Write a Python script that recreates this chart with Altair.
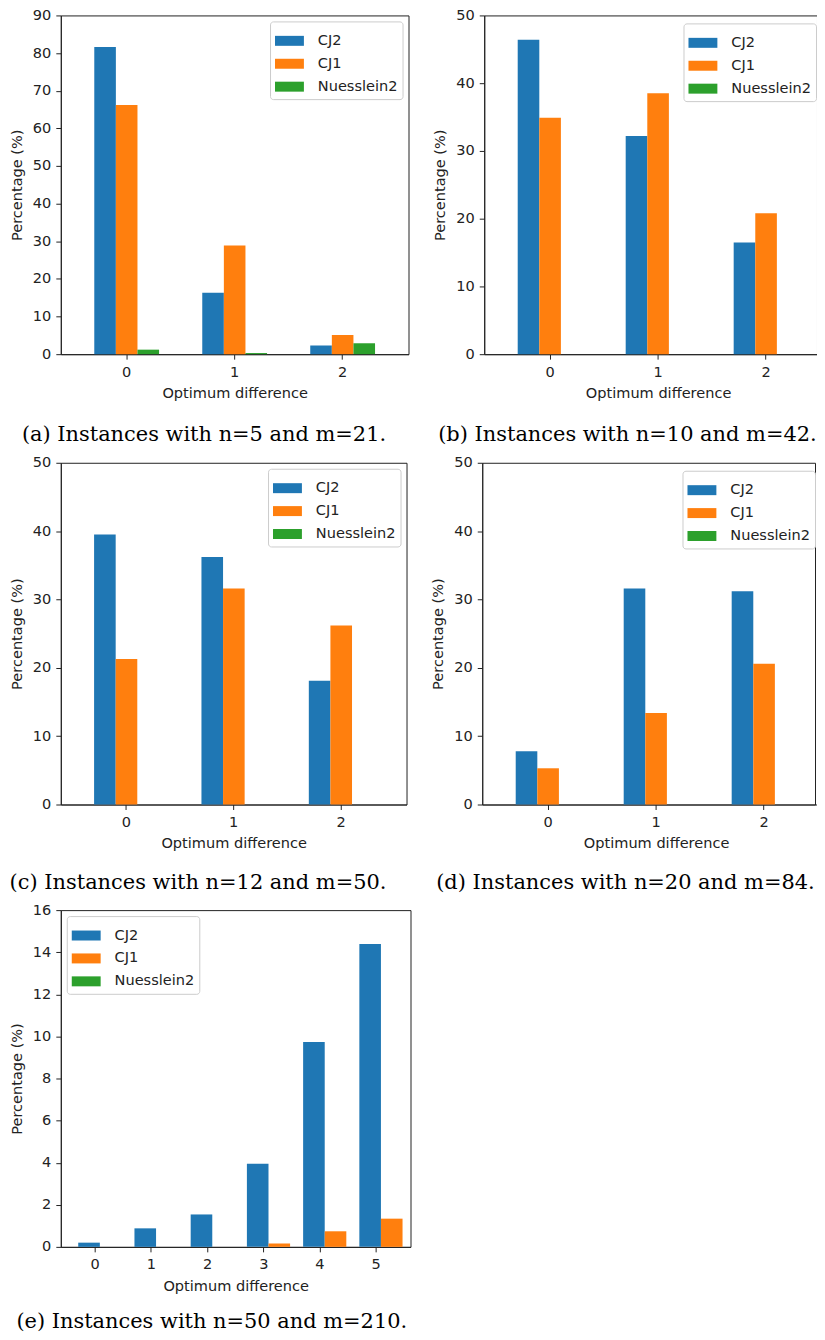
import altair as alt
import pandas as pd

series = ["CJ2", "CJ1", "Nuesslein2"]
colors = ["#1f77b4", "#ff7f0e", "#2ca02c"]

# (a) n=5, m=21
a_diff = [0, 1, 2]
a_cj2 = [81.6, 16.3, 2.3]
a_cj1 = [66.2, 28.9, 5.1]
a_nu2 = [1.2, 0.3, 2.9]
a_ticks = [0, 10, 20, 30, 40, 50, 60, 70, 80, 90]

# (b) n=10, m=42
b_diff = [0, 1, 2]
b_cj2 = [46.4, 32.2, 16.5]
b_cj1 = [34.9, 38.5, 20.8]
b_nu2 = [0, 0, 0]
b_ticks = [0, 10, 20, 30, 40, 50]

# (c) n=12, m=50
c_diff = [0, 1, 2]
c_cj2 = [39.5, 36.2, 18.1]
c_cj1 = [21.3, 31.6, 26.2]
c_nu2 = [0, 0, 0]
c_ticks = [0, 10, 20, 30, 40, 50]

# (d) n=20, m=84
d_diff = [0, 1, 2]
d_cj2 = [7.8, 31.6, 31.2]
d_cj1 = [5.3, 13.4, 20.6]
d_nu2 = [0, 0, 0]
d_ticks = [0, 10, 20, 30, 40, 50]

# (e) n=50, m=210
e_diff = [0, 1, 2, 3, 4, 5]
e_cj2 = [0.2, 0.88, 1.54, 3.95, 9.73, 14.39]
e_cj1 = [0, 0, 0, 0.16, 0.74, 1.34]
e_nu2 = [0, 0, 0, 0, 0, 0]
e_ticks = [0, 2, 4, 6, 8, 10, 12, 14, 16]

captions = [
    "(a) Instances with n=5 and m=21.",
    "(b) Instances with n=10 and m=42.",
    "(c) Instances with n=12 and m=50.",
    "(d) Instances with n=20 and m=84.",
    "(e) Instances with n=50 and m=210.",
]

RECT = "M-1,-0.345L1,-0.345L1,0.345L-1,0.345Z"
FS = 14.6


def panel(diffs, cj2, cj1, nu2, ticks, legend, caption, dx, cap_offset, w, h, xrange=None):
    rows = []
    for s, vals in zip(series, [cj2, cj1, nu2]):
        for d, v in zip(diffs, vals):
            rows.append({"diff": d, "series": s, "value": v})
    df = pd.DataFrame(rows)
    xscale = alt.Scale(paddingInner=0.4, paddingOuter=0.31)
    if xrange is not None:
        xscale = alt.Scale(paddingInner=0.4, paddingOuter=0.31, range=xrange)
    return alt.Chart(df).mark_bar().encode(
        x=alt.X("diff:O", title="Optimum difference", scale=xscale,
                axis=alt.Axis(labelAngle=0)),
        xOffset=alt.XOffset("series:N", sort=series,
                            scale=alt.Scale(domain=series, paddingInner=0, paddingOuter=0)),
        y=alt.Y("value:Q", title="Percentage (%)",
                scale=alt.Scale(domain=[ticks[0], ticks[-1]], nice=False),
                axis=alt.Axis(values=ticks)),
        color=alt.Color("series:N", sort=series,
                        scale=alt.Scale(domain=series, range=colors),
                        legend=legend),
    ).properties(
        width=w, height=h,
        title=alt.TitleParams(caption, orient="bottom", anchor="middle", frame="bounds",
                              font="DejaVu Serif", fontSize=21, fontWeight="normal",
                              color="black", offset=cap_offset, dx=dx),
    )


leg_a = alt.Legend(orient="top-right", title=None, offset=6)
leg_b = alt.Legend(orient="none", title=None, legendX=200, legendY=8)
leg_c = alt.Legend(orient="top-right", title=None, offset=6)
leg_d = alt.Legend(orient="none", title=None, legendX=201, legendY=8)
leg_e = alt.Legend(orient="top-left", title=None, offset=6)

pa = panel(a_diff, a_cj2, a_cj1, a_nu2, a_ticks, leg_a, captions[0], -5, 24, 349, 340)
pb = panel(b_diff, b_cj2, b_cj1, b_nu2, b_ticks, leg_b, captions[1], -5, 24, 334, 340,
           xrange=[0, 349])
pc = panel(c_diff, c_cj2, c_cj1, c_nu2, c_ticks, leg_c, captions[2], -10, 22, 347, 343)
pd_ = panel(d_diff, d_cj2, d_cj1, d_nu2, d_ticks, leg_d, captions[3], -5, 22, 334, 343,
            xrange=[0, 349])
pe = panel(e_diff, e_cj2, e_cj1, e_nu2, e_ticks, leg_e, captions[4], -5, 18, 351, 338)

row1 = alt.hconcat(pa, pb, spacing=22).resolve_scale(color="independent")
row2 = alt.hconcat(pc, pd_, spacing=22).resolve_scale(color="independent")
top_rows = alt.vconcat(row1, row2, spacing=8).resolve_scale(color="independent")

chart = alt.vconcat(top_rows, pe, spacing=7).resolve_scale(color="independent").properties(
    padding={"left": 0, "top": -4, "right": -16, "bottom": -1}
).configure_view(
    stroke="#222", strokeWidth=1
).configure_axis(
    labelFont="DejaVu Sans", labelFontSize=FS, labelColor="#222",
    titleFont="DejaVu Sans", titleFontSize=FS, titleFontWeight="normal", titleColor="#222",
    tickColor="#222", domainColor="#222", tickSize=5, grid=False, labelPadding=5,
).configure_axisY(titlePadding=8).configure_axisX(titlePadding=7).configure_legend(
    labelFont="DejaVu Sans", labelFontSize=FS, labelColor="#222",
    symbolType=RECT, symbolSize=841, symbolStrokeWidth=0, symbolOpacity=1,
    fillColor="white", strokeColor="#cccccc", cornerRadius=3, padding=5,
    labelOffset=14, rowPadding=1,
)

chart.save("out.html", embed_options={"renderer": "svg", "actions": False})
